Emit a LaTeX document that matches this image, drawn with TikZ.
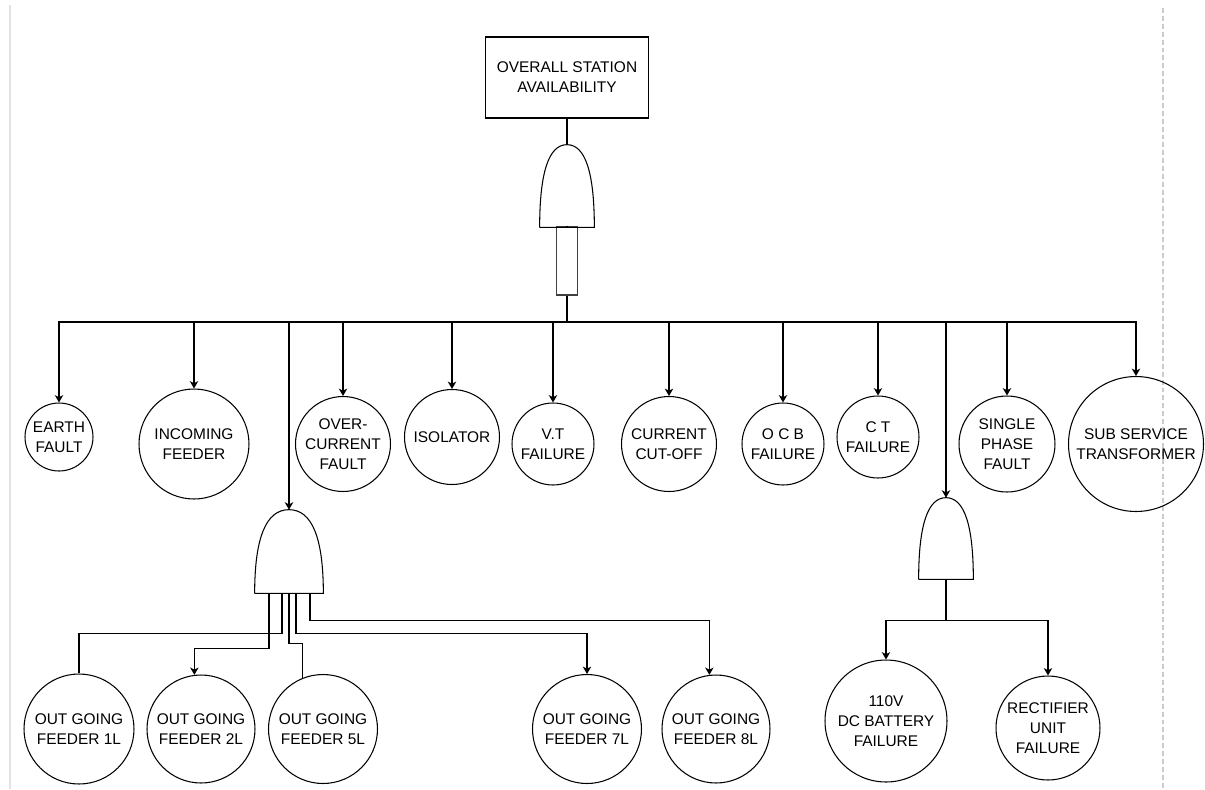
\documentclass[tikz,border=0pt]{standalone}
\usepackage{fontspec}
\setmainfont{Liberation Sans}
\usetikzlibrary{arrows.meta, calc}
\definecolor{framegray}{HTML}{E3E3E3}
\definecolor{dashgray}{HTML}{CCCCCC}
\newcommand*\andgate[1]{\draw[gateline] (#1.south west) -- (#1.south east)
    .. controls ($(#1.south east)!0.667!(#1.north east)$) and ($(#1.north)!0.667!(#1.north east)$) .. (#1.north)
    .. controls ($(#1.north)!0.667!(#1.north west)$) and ($(#1.south west)!0.667!(#1.north west)$) .. (#1.south west);}

\begin{document}
\begin{tikzpicture}[x=0.02cm, y=-0.02cm,
    every node/.style={font=\fontsize{8.8}{11.3}\selectfont, align=center, inner sep=0pt},
    event/.style={draw, circle, line width=0.6pt},
    topbox/.style={draw, rectangle, line width=0.6pt, minimum width=3.26cm, minimum height=1.62cm},
    gatebox/.style={minimum width=1.08cm, minimum height=1.64cm},
    gateline/.style={line width=0.6pt},
    wire/.style={line width=0.6pt},
    arrowwire/.style={wire, -{Stealth[length=4.2pt, width=4.8pt, inset=1.2pt]}}]
    \useasboundingbox (0,0) rectangle (1205,789);
    \draw[framegray, line width=1pt] (10,5) -- (10,789);
    \draw[dashgray, line width=0.6pt, dash pattern=on 2.8pt off 1.7pt] (1163,8) -- (1163,789);
    %
    \node[topbox] (nodeStation) at (567,77.5) {OVERALL STATION\\AVAILABILITY};
    \node[gatebox] (gateTop) at (567,186) {};
    \node[draw, black!75, line width=0.8pt, minimum width=0.42cm, minimum height=1.36cm] (nodeInhibit) at (567,261) {};
    \coordinate (busMain) at (567,322);
    %
    \node[event, minimum size=1.36cm] (nodeEarth) at (59,437) {EARTH\\FAULT};
    \node[event, minimum size=2.2cm] (nodeIncoming) at (194,444) {INCOMING\\FEEDER};
    \node[event, minimum size=1.9cm] (nodeOverCurrent) at (343,444) {OVER-\\CURRENT\\FAULT};
    \node[event, minimum size=1.9cm] (nodeIsolator) at (452,437) {ISOLATOR};
    \node[event, minimum size=1.64cm] (nodeVT) at (553,444) {V.T\\FAILURE};
    \node[event, minimum size=1.9cm] (nodeCutOff) at (669,444) {CURRENT\\CUT-OFF};
    \node[event, minimum size=1.64cm] (nodeOCB) at (783,444) {O C B\\FAILURE};
    \node[event, minimum size=1.64cm] (nodeCT) at (878,437) {C T\\FAILURE};
    \node[event, minimum size=1.92cm] (nodeSinglePhase) at (1007,444) {SINGLE\\PHASE\\FAULT};
    \node[event, minimum size=2.7cm] (nodeSubService) at (1136,444) {SUB SERVICE\\TRANSFORMER};
    %
    \node[gatebox, minimum width=1.36cm, minimum height=1.66cm] (gateLeft) at (289,551.5) {};
    \node[gatebox, minimum height=1.62cm] (gateRight) at (946,538.5) {};
    %
    \node[event, minimum size=2.2cm] (nodeFeeder1) at (79,729) {OUT GOING\\FEEDER 1L};
    \node[event, minimum size=2.16cm] (nodeFeeder2) at (201,729) {OUT GOING\\FEEDER 2L};
    \node[event, minimum size=2.18cm] (nodeFeeder5) at (323,729) {OUT GOING\\FEEDER 5L};
    \node[event, minimum size=2.18cm] (nodeFeeder7) at (587,729) {OUT GOING\\FEEDER 7L};
    \node[event, minimum size=2.16cm] (nodeFeeder8) at (716,729) {OUT GOING\\FEEDER 8L};
    \node[event, minimum size=2.44cm] (nodeBattery) at (886,721) {110V\\DC BATTERY\\FAILURE};
    \node[event, minimum size=2.08cm] (nodeRectifier) at (1048,728) {RECTIFIER\\UNIT\\FAILURE};
    %
    \andgate{gateTop}
    \andgate{gateLeft}
    \andgate{gateRight}
    %
    \draw[wire] (nodeStation) -- (gateTop.north);
    \draw[wire] (gateTop.south) -- (nodeInhibit);
    \draw[wire] (nodeInhibit) -- (busMain);
    \foreach \n in {nodeEarth, nodeIncoming, nodeOverCurrent, nodeIsolator, nodeVT, nodeCutOff, nodeOCB, nodeCT, nodeSinglePhase, nodeSubService, gateLeft, gateRight}
        \draw[arrowwire] (busMain) -| (\n.north);
    %
    \draw[wire] ($(gateLeft.south)+(-7,0)$) -- ++(0,40) -| (nodeFeeder1.north);
    \draw[arrowwire] ($(gateLeft.south)+(-20,0)$) -- ++(0,55) -| (nodeFeeder2.97);
    \draw[wire] (gateLeft.south) -- ++(0,50) -| (nodeFeeder5.112);
    \draw[arrowwire] ($(gateLeft.south)+(7,0)$) -- ++(0,40) -| (nodeFeeder7.north);
    \draw[arrowwire] ($(gateLeft.south)+(21,0)$) -- ++(0,27) -| (nodeFeeder8.97);
    %
    \draw[wire] (gateRight.south) -- ++(0,41) coordinate (joinRight);
    \draw[arrowwire] (joinRight) -| (nodeBattery.north);
    \draw[arrowwire] (joinRight) -| (nodeRectifier.north);
\end{tikzpicture}
\end{document}
